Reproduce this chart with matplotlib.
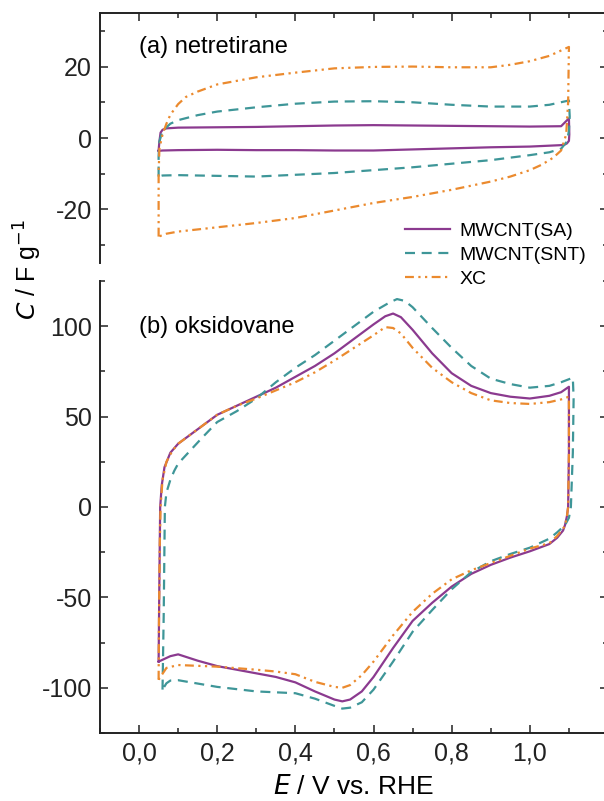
import numpy as np
import matplotlib
matplotlib.use("Agg")
import matplotlib.pyplot as plt
from matplotlib.ticker import FixedLocator, FuncFormatter

plt.rcParams['font.family'] = ['Liberation Sans', 'DejaVu Sans']
plt.rcParams['axes.unicode_minus'] = False

# Series names and colours
labels = ["MWCNT(SA)", "MWCNT(SNT)", "XC"]
colors = ["#8B3A8F", "#3E9698", "#EB8A2E"]

# (a) netretirane - CV loops, E / V and C / F g-1
a_sa_x = [0.05, 0.052, 0.055, 0.06, 0.07, 0.1, 0.2, 0.3, 0.4, 0.5, 0.6, 0.7, 0.8, 0.9, 1.0, 1.08, 1.1,
          1.101, 1.1, 1.095, 1.09, 1.08, 1.0, 0.9, 0.8, 0.7, 0.6, 0.5, 0.4, 0.3, 0.2, 0.1, 0.06, 0.05]
a_sa_y = [-3.5, -1.0, 1.5, 2.3, 2.7, 2.9, 3.0, 3.1, 3.3, 3.5, 3.6, 3.5, 3.4, 3.3, 3.2, 3.3, 5.5,
          1.0, -0.8, -1.5, -1.8, -2.0, -2.4, -2.6, -2.9, -3.2, -3.5, -3.5, -3.4, -3.4, -3.3, -3.4, -3.5, -3.6]

a_snt_x = [0.05, 0.05, 0.052, 0.06, 0.08, 0.1, 0.15, 0.2, 0.3, 0.4, 0.5, 0.6, 0.7, 0.8, 0.9, 1.0, 1.05, 1.1,
           1.102, 1.1, 1.095, 1.08, 1.05, 1.0, 0.9, 0.8, 0.7, 0.6, 0.5, 0.4, 0.3, 0.2, 0.1, 0.06, 0.05]
a_snt_y = [-10.8, -5.0, -1.0, 2.0, 4.0, 5.0, 6.4, 7.4, 8.6, 9.6, 10.2, 10.3, 10.0, 9.3, 8.8, 8.8, 9.3, 10.5,
           6.0, 2.0, -1.0, -3.0, -4.0, -4.8, -6.2, -7.2, -8.2, -9.0, -9.8, -10.3, -10.8, -10.6, -10.4, -10.5, -10.8]

a_xc_x = [0.05, 0.05, 0.052, 0.06, 0.07, 0.08, 0.1, 0.12, 0.15, 0.2, 0.3, 0.4, 0.5, 0.6, 0.7, 0.8, 0.9, 0.95, 1.0,
          1.05, 1.1, 1.098, 1.093, 1.08, 1.06, 1.03, 1.0, 0.95, 0.9, 0.8, 0.7, 0.6, 0.5, 0.4, 0.3, 0.2, 0.1, 0.07, 0.05]
a_xc_y = [-27.6, -10.0, -3.0, 1.0, 4.0, 6.5, 9.5, 11.5, 13.0, 15.0, 17.0, 18.3, 19.5, 19.9, 20.0, 19.8, 19.8, 20.5, 21.5,
          23.0, 25.5, 10.0, 1.0, -3.5, -5.5, -7.5, -9.0, -10.8, -12.2, -14.5, -16.5, -18.2, -20.3, -22.4, -23.8, -25.0, -26.2, -26.8, -27.6]

# (b) oksidovane
b_sa_x = [0.05, 0.052, 0.054, 0.058, 0.065, 0.08, 0.1, 0.15, 0.2, 0.25, 0.3, 0.35, 0.4, 0.45, 0.5, 0.55, 0.6, 0.63,
          0.65, 0.67, 0.7, 0.75, 0.8, 0.85, 0.9, 0.95, 1.0, 1.05, 1.08, 1.1,
          1.1, 1.098, 1.095, 1.09, 1.085, 1.07, 1.05, 1.0, 0.95, 0.9, 0.85, 0.8, 0.75, 0.7, 0.65, 0.6, 0.57, 0.54,
          0.52, 0.5, 0.45, 0.4, 0.35, 0.3, 0.2, 0.15, 0.1, 0.08, 0.05]
b_sa_y = [-85.5, -40, 0, 12, 22, 30, 35, 43, 51, 56, 61, 66, 72, 78, 85, 93, 101, 105.5,
          107, 105, 98, 85, 74, 67, 63, 61, 60, 61.5, 63.5, 66.5,
          30, 0, -5, -10, -13, -17, -20.5, -24.5, -28, -32, -37, -44, -53, -63, -78, -94, -102, -106.5,
          -107.5, -106.5, -102, -97, -94, -92, -88, -85, -81.5, -82.5, -85.5]

b_snt_x = [0.06, 0.063, 0.065, 0.066, 0.07, 0.08, 0.09, 0.1, 0.13, 0.16, 0.2, 0.25, 0.3, 0.35, 0.4, 0.45, 0.5, 0.55,
           0.6, 0.64, 0.66, 0.68, 0.7, 0.75, 0.8, 0.85, 0.9, 0.95, 1.0, 1.05, 1.08, 1.11,
           1.112, 1.11, 1.105, 1.1, 1.09, 1.07, 1.05, 1.0, 0.95, 0.9, 0.85, 0.8, 0.75, 0.7, 0.65, 0.6, 0.57, 0.54,
           0.52, 0.5, 0.45, 0.4, 0.35, 0.3, 0.2, 0.1, 0.08, 0.07, 0.06]
b_snt_y = [-101, -60, -20, 0, 8, 15, 20, 24, 31, 38, 47, 53, 60, 69, 77, 84, 92, 100,
           108, 113, 115, 114, 110.5, 99, 88, 78, 71, 68, 66, 67, 69, 71.5,
           60, 30, 0, -6, -10, -14, -17.5, -22.5, -26, -30, -36, -45.5, -57, -69, -85.5, -101, -108, -111,
           -111.5, -110, -106, -103, -102.5, -102, -99.5, -95.8, -96, -97.5, -101]

b_xc_x = [0.05, 0.051, 0.053, 0.055, 0.06, 0.07, 0.085, 0.1, 0.15, 0.2, 0.25, 0.3, 0.35, 0.4, 0.45, 0.5, 0.55, 0.6,
          0.63, 0.65, 0.67, 0.7, 0.75, 0.8, 0.85, 0.9, 0.95, 1.0, 1.05, 1.08, 1.1,
          1.1, 1.098, 1.095, 1.09, 1.07, 1.05, 1.0, 0.95, 0.9, 0.85, 0.8, 0.75, 0.7, 0.65, 0.6, 0.57, 0.54,
          0.52, 0.5, 0.45, 0.4, 0.35, 0.3, 0.2, 0.1, 0.07, 0.05]
b_xc_y = [-95.5, -60, -20, 0, 15, 25, 31, 35, 43, 51, 56, 60, 64.5, 69, 74.5, 81, 88, 95,
          99.5, 99, 96, 88, 77, 69, 63, 59, 57.5, 57, 58, 59.5, 61,
          30, 0, -5, -10.5, -16, -20, -23, -27, -31, -35, -40, -48, -58, -71, -85.5, -93, -98.5,
          -100, -99.5, -96.7, -92.5, -91, -90, -88.3, -87.4, -89, -95.5]

styles = [dict(ls='-'), dict(ls=(0, (4.5, 3))), dict(ls=(0, (4, 2, 1, 2, 1, 2)))]

fig = plt.figure(figsize=(6.04, 8.01), dpi=100)
ax1 = fig.add_axes([100/604, 1-263/801, 508/604, 250/801])
ax2 = fig.add_axes([100/604, 1-733/801, 508/604, 452/801])

top = [(a_sa_x, a_sa_y), (a_snt_x, a_snt_y), (a_xc_x, a_xc_y)]
bot = [(b_sa_x, b_sa_y), (b_snt_x, b_snt_y), (b_xc_x, b_xc_y)]
handles = []
for i in range(3):
    h, = ax1.plot(top[i][0], top[i][1], color=colors[i], lw=1.6, label=labels[i], **styles[i])
    ax2.plot(bot[i][0], bot[i][1], color=colors[i], lw=1.6, **styles[i])
    handles.append(h)

comma = FuncFormatter(lambda v, p: ("%.1f" % v).replace(".", ","))

for ax in (ax1, ax2):
    ax.set_xlim(-0.1, 1.2)
    ax.xaxis.set_major_locator(FixedLocator([0.0, 0.2, 0.4, 0.6, 0.8, 1.0]))
    ax.xaxis.set_minor_locator(FixedLocator([-0.1, 0.1, 0.3, 0.5, 0.7, 0.9, 1.1]))
    ax.xaxis.set_major_formatter(comma)
    ax.tick_params(which='both', direction='in', width=1.1, labelsize=18, pad=6, colors='#222222')
    ax.tick_params(which='major', length=6)
    ax.tick_params(which='minor', length=3.5)
    for s in ax.spines.values():
        s.set_linewidth(1.4)
        s.set_color('#222222')

ax1.set_ylim(-35, 35)
ax1.yaxis.set_major_locator(FixedLocator([-20, 0, 20]))
ax1.yaxis.set_minor_locator(FixedLocator([-30, -10, 10, 30]))
ax1.spines['bottom'].set_visible(False)
ax1.tick_params(which='both', top=True, right=True, bottom=False, labelbottom=False)

ax2.set_ylim(-125, 125)
ax2.yaxis.set_major_locator(FixedLocator([-100, -50, 0, 50, 100]))
ax2.yaxis.set_minor_locator(FixedLocator([-125, -75, -25, 25, 75, 125]))
ax2.spines['top'].set_visible(False)
ax2.tick_params(which='both', top=False, right=True)
ax2.set_xlabel("$\\mathit{E}$ / V vs. RHE", fontsize=19, labelpad=7)

ax1.text(0.0, 25.4, "(a) netretirane", fontsize=17, va='center')
ax2.text(0.0, 99.5, "(b) oksidovane", fontsize=17, va='center')

fig.text(28/604, 1-270/801, "$\\mathit{C}$ / F g$^{-1}$", rotation=90, fontsize=18,
         ha='center', va='center')

fig.legend(handles=handles, labels=labels, loc='upper left', bbox_to_anchor=(405/604, 1-222/801),
           frameon=False, fontsize=14, handlelength=2.3, handletextpad=0.5, labelspacing=0.34,
           borderaxespad=0, borderpad=0)

fig.savefig("out.png", dpi=100)
